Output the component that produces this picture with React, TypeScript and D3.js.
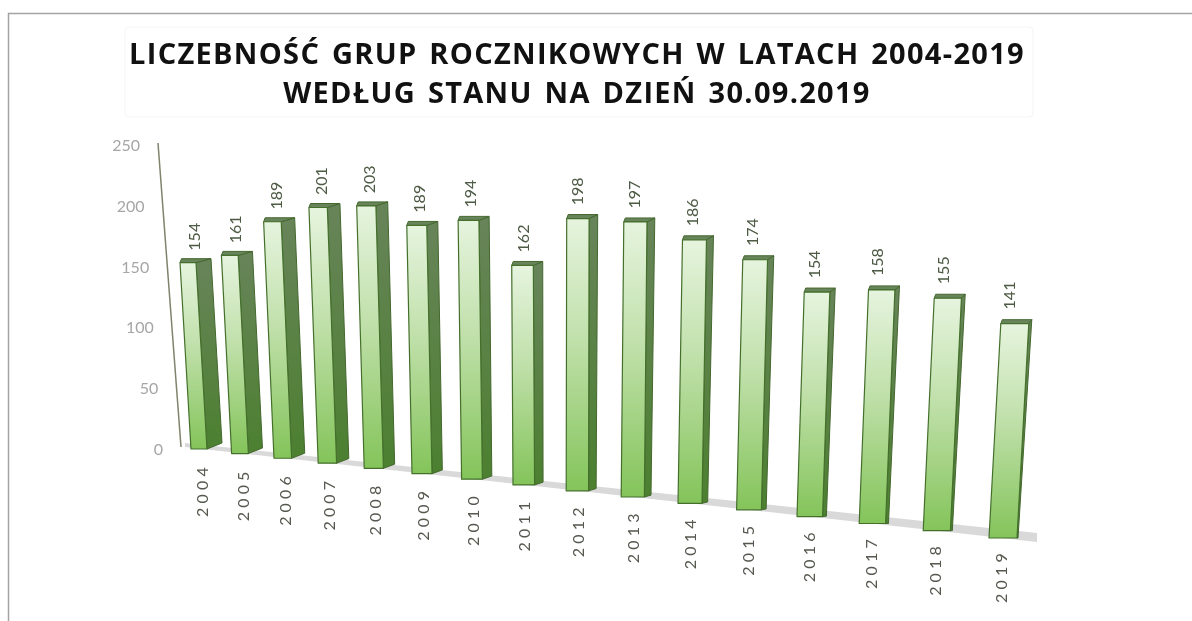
import React from "react";
import * as d3 from "d3";

const years = ["2004","2005","2006","2007","2008","2009","2010","2011","2012","2013","2014","2015","2016","2017","2018","2019"];
const counts = [154,161,189,201,203,189,194,162,198,197,186,174,154,158,155,141];
const yTicks = [0,50,100,150,200,250];
const titleLines = ["LICZEBNOŚĆ GRUP ROCZNIKOWYCH W LATACH 2004-2019", "WEDŁUG STANU NA DZIEŃ 30.09.2019"];

const uScale = d3.scalePoint<string>().domain(years).range([0, 15]);
const xBase = (u: number) => 191 + 39.7 * u + 0.9 * u * u;
const yBase = d3.scaleLinear().domain([191, 989]).range([449, 538]);
const frontW = d3.scaleLinear().domain([0, 15]).range([16, 28]);
const sideBottom = d3.scaleLinear().domain([0, 15]).range([15, 1]);
const sideTop = d3.scaleLinear().domain([0, 15]).range([15, 3]);
const unitH = d3.scaleLinear().domain([0, 15]).range([1.21, 1.52]);
const lean = d3.scaleLinear().domain([0, 15]).range([-0.059, 0.055]);
const labelY = d3.scaleLinear().domain([0, 250]).range([449, 145]);
const axisY = d3.scaleLinear().domain([0, 250]).range([447, 143]);
const axisX = d3.scaleLinear().domain([0, 250]).range([181, 158]);
const poly = (p: number[][]) => d3.line()(p as [number, number][]) + "Z";

export default function App() {
  return (
    <svg width={1192} height={621} style={{ position: "absolute", left: 0, top: 0, display: "block", background: "#fff", filter: "blur(0.5px)" }}>
      <defs>
        <linearGradient id="front" x1="0" y1="0" x2="0" y2="1">
          <stop offset="0" stopColor="#e6f4de" />
          <stop offset="0.45" stopColor="#c0e0aa" />
          <stop offset="1" stopColor="#84c45a" />
        </linearGradient>
        <linearGradient id="side" x1="0" y1="0" x2="0" y2="1">
          <stop offset="0" stopColor="#68845a" />
          <stop offset="1" stopColor="#4c8030" />
        </linearGradient>
      </defs>
      <path d="M8.5 621V13.5H1192" fill="none" stroke="#a3a3a3" strokeWidth={1.5} />
      <rect x={125} y={27} width={908} height={90} rx={4} fill="#fff" stroke="#f5f5f5" />
      {titleLines.map((t, i) => (
        <text key={t} x={577} y={64 + i * 39} textAnchor="middle" fontFamily="'Open Sans', sans-serif" fontWeight={700} fontSize={29} letterSpacing={1.3} wordSpacing={3} fill="#111">{t}</text>
      ))}
      <path d={poly([[185, 443], [1037, 533], [1037, 542], [185, 447]])} fill="#d9d9d9" />
      <line x1={axisX(250)} y1={axisY(250)} x2={axisX(0)} y2={axisY(0)} stroke="#80846c" strokeWidth={1.5} />
      {yTicks.map(v => (
        <text key={v} x={axisX(v) - 18} y={labelY(v) + 6} textAnchor="end" fontFamily="Lato, sans-serif" fontSize={16} fill="#a6a6a6">{v}</text>
      ))}
      {years.map((yr, i) => {
        const u = uScale(yr)!;
        const x = xBase(u), y = yBase(x);
        const w = frontW(u), sb = sideBottom(u), st = sideTop(u);
        const H = counts[i] * unitH(u);
        const dx = lean(u) * H;
        const bl = [x, y], br = [x + w, y];
        const tl = [x + dx, y - H], tr = [x + w + dx, y - H];
        const d = 4;
        const sbr = [x + w + sb, y - (u < 13 ? 6 * (1 - u / 13) : 0)];
        const str = [x + w + dx + st, y - H - d];
        const stl = [x + dx + 1.5, y - H - d];
        return (
          <g key={yr}>
            <path d={poly([br, sbr, str, tr])} fill="url(#side)" stroke="#44682e" strokeWidth={1} strokeLinejoin="round" />
            <path d={poly([tl, stl, str, tr])} fill="#68845a" stroke="#44682e" strokeWidth={1} strokeLinejoin="round" />
            <path d={poly([bl, br, tr, tl])} fill="url(#front)" stroke="#44702c" strokeWidth={1.2} strokeLinejoin="round" />
            <text transform={`translate(${x + dx + (w + st) / 2 + 4 - 0.35 * u},${y - H - 12 - 0.15 * u}) rotate(-90)`} fontFamily="Lato, sans-serif" fontSize={16} fill="#4d5a44">{counts[i]}</text>
            <text transform={`translate(${x + w / 2 + 9 - 0.35 * u},${y + 68 - 0.2 * u}) rotate(-90)`} fontFamily="Lato, sans-serif" fontSize={16} letterSpacing={4.2} fill="#55594f">{yr}</text>
          </g>
        );
      })}
    </svg>
  );
}
